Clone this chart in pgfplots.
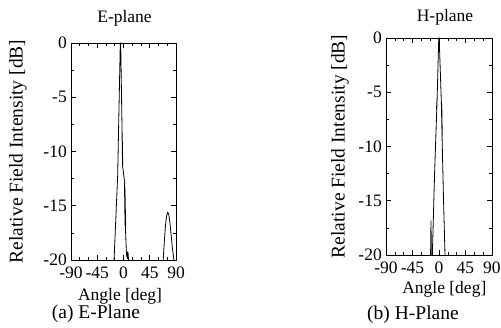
\documentclass[border=0pt]{standalone}
\usepackage{fontspec}
\setmainfont{Liberation Serif}
\usepackage{pgfplots}
\pgfplotsset{compat=1.18}
\newcommand{\fa}{\fontsize{17.5}{20}\selectfont}
\newcommand{\fb}{\fontsize{19.5}{22}\selectfont}
\pgfplotsset{myax/.style={
  scale only axis, height=217pt,
  xmin=-90, xmax=90, ymin=-20, ymax=0,
  xtick={-90,-45,0,45,90},
  minor xtick={-75,-60,-30,-15,15,30,60,75},
  ytick={-20,-15,-10,-5,0},
  minor ytick={-17.5,-12.5,-7.5,-2.5},
  tick align=inside, major tick length=5pt, minor tick length=3pt,
  tick style={black, line width=0.6pt},
  axis line style={line width=0.8pt},
  /pgf/number format/assume math mode=true,
  tick label style={font=\fa, inner sep=1pt},
  yticklabel style={xshift=-3pt},
  xticklabel style={yshift=-5.5pt},
  every axis title/.style={font=\fa, anchor=base},
  every axis x label/.style={font=\fa, anchor=base},
  every axis y label/.style={font=\fb, anchor=center, rotate=90},
  clip=true,
}}
\begin{document}
\begin{tikzpicture}
\path[use as bounding box] (0,0) rectangle (501pt,328pt);
% E-plane
\begin{axis}[myax, width=105pt, at={(71pt,68pt)}, anchor=south west,
  title={E-plane}, title style={at={(axis description cs:0.51,1)}, yshift=20pt},
  xlabel={Angle [deg]}, xlabel style={at={(axis description cs:0.467,0)}, yshift=-40.7pt},
  ylabel={Relative Field Intensity [dB]}, ylabel style={at={(axis description cs:-0.505,0.5)}}]
\addplot[black, line width=0.8pt] coordinates {
(-16.2,-20) (-10,-12.2) (-5.5,0) (-4.8,0) (-2.5,-8)
(-1.6,-11.3) (-2.6,-8.1) (-1.5,-11.2) (-2.4,-8.2) (-1.3,-11.3) (-2.2,-8.3) (-1.6,-11.3)
(1.4,-12.6) (2.2,-12.8) (2.7,-16.8) (1.6,-12.9) (3.4,-16.7) (2.2,-13.1) (3.7,-16.8) (2.5,-13.5) (3.2,-16.8)
(4.8,-19.2) (5.6,-19.7) (6.4,-19.2) (7.0,-19.9) (7.6,-19.3) (8.2,-19.9) (8.0,-19.4) (8.6,-20)
};
\addplot[black, line width=0.8pt] coordinates {
(68,-20) (70,-18.3) (72,-16.8) (74,-15.9) (76,-15.6) (78,-15.9) (80,-16.8) (82,-17.9) (84,-19) (86.5,-20)
};
\end{axis}
% H-plane
\begin{axis}[myax, width=106pt, at={(386pt,73pt)}, anchor=south west,
  title={H-plane}, title style={at={(axis description cs:0.557,1)}, yshift=16pt},
  xlabel={Angle [deg]}, xlabel style={at={(axis description cs:0.55,0)}, yshift=-38.3pt},
  ylabel={Relative Field Intensity [dB]}, ylabel style={at={(axis description cs:-0.434,0.5)}}]
\addplot[black, line width=0.8pt] coordinates {
(-11.3,-20) (-7.5,-12.5) (-3.8,-6.6) (-3.0,-5.4) (-4.0,-6.6) (-3.2,-5.5) (-4.2,-6.5) (-3.0,-5.4) (-3.6,-6.4)
(-0.4,0) (0.3,0) (4.0,-5.9) (5.2,-9.1) (4.2,-5.9) (5.4,-9.0) (4.6,-6.0) (5.6,-9.1) (4.8,-6.5) (5.2,-9.1)
(7.5,-14.5) (10.2,-20)
};
\addplot[black, line width=0.8pt] coordinates {
(-14.3,-20) (-13.6,-16.8) (-13.0,-20)
};
\end{axis}
\node[font=\fb, anchor=base] at (96pt,9.7pt) {(a) E-Plane};
\node[font=\fb, anchor=base] at (413pt,8pt) {(b) H-Plane};
\end{tikzpicture}
\end{document}
